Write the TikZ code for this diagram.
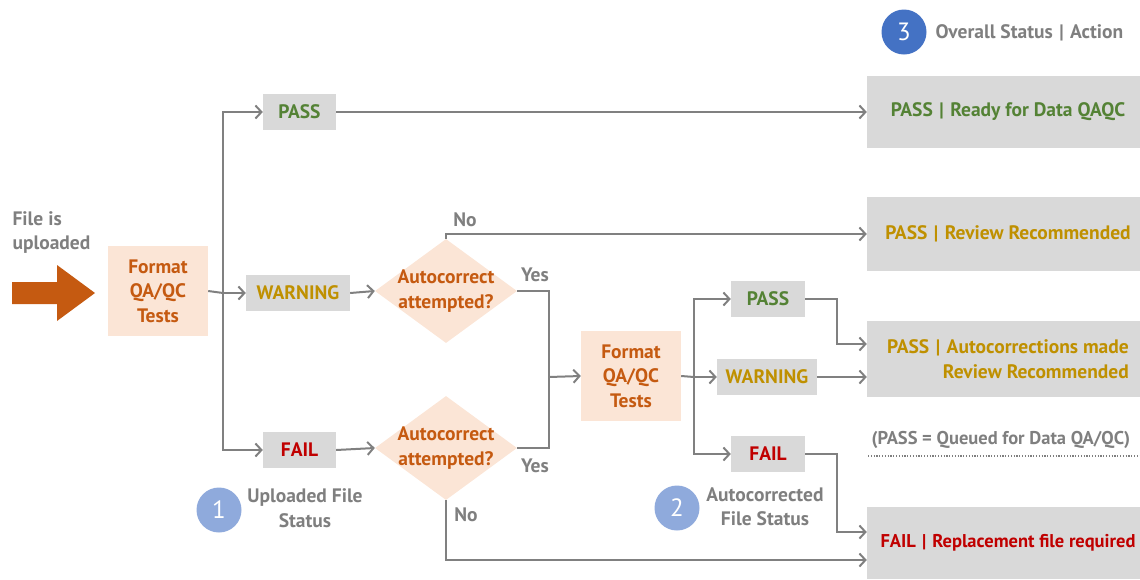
\documentclass[tikz,border=0pt]{standalone}
\usepackage{fontspec}
\setmainfont{PT Sans}
\usetikzlibrary{arrows.meta,shapes.geometric,calc}
\definecolor{peach}{HTML}{FBE5D6}
\definecolor{orangetxt}{HTML}{C55A11}
\definecolor{boxgray}{HTML}{D9D9D9}
\definecolor{linegray}{HTML}{808080}
\definecolor{txtgray}{HTML}{7F7F7F}
\definecolor{passgreen}{HTML}{548235}
\definecolor{warngold}{HTML}{BF9000}
\definecolor{failred}{HTML}{C00000}
\definecolor{lightblue}{HTML}{8FAADC}
\definecolor{darkblue}{HTML}{4472C4}
\begin{document}
\begin{tikzpicture}[x=1pt,y=-1pt,
  font=\fontsize{19.5}{24.5}\selectfont\bfseries,
  conn/.style={draw=linegray, line width=2pt},
  arr/.style={conn, -{Straight Barb[length=6pt,width=13pt]}},
  fmtbox/.style={fill=peach, text=orangetxt, minimum width=100pt, minimum height=90pt, align=center, inner sep=0pt},
  resbox/.style={fill=boxgray, minimum height=36pt, inner sep=0pt},
  statbox/.style={fill=boxgray, minimum width=282pt, inner sep=0pt, align=center},
  decision/.style={diamond, fill=peach, minimum width=142pt, minimum height=104pt, inner sep=0pt},
  dtext/.style={text=orangetxt, align=center},
  graytxt/.style={text=txtgray, align=center},
  numcirc/.style={circle, minimum size=45pt, inner sep=0pt, text=white, font=\fontsize{25}{27}\selectfont}
]
\useasboundingbox (0,0) rectangle (1140,579);
\clip (0,0) rectangle (1140,579);

% input
\node[graytxt, align=left, anchor=north west] (up) at (9,208) {File is\\uploaded};
\fill[orangetxt] (12,282) -- (57,282) -- (57,265) -- (95,293) -- (57,321) -- (57,304) -- (12,304) -- cycle;

\node[fmtbox] (fmt1) at (158,291) {Format\\QA/QC\\Tests};
\coordinate (j1) at (223,293);

\node[resbox, minimum width=73pt, text=passgreen] (pass1) at (299.5,112) {PASS};
\node[resbox, minimum width=104pt, text=warngold] (warn1) at (298,293) {WARNING};
\node[resbox, minimum width=73pt, text=failred] (fail1) at (299.5,450) {FAIL};

\node[decision] (d1) at (446,291) {};
\node[dtext] at (d1) {Autocorrect\\attempted?};
\node[decision] (d2) at (446,448) {};
\node[dtext] at (d2) {Autocorrect\\attempted?};

\coordinate (m) at (549,377);
\node[fmtbox] (fmt2) at (631,376) {Format\\QA/QC\\Tests};
\coordinate (j2) at (694,377);

\node[resbox, minimum width=74pt, text=passgreen] (pass2) at (768,299) {PASS};
\node[resbox, minimum width=100pt, text=warngold] (warn2) at (767,377) {WARNING};
\node[resbox, minimum width=74pt, text=failred] (fail2) at (768,454) {FAIL};

% status boxes
\node[statbox, minimum height=72pt, text=passgreen] (st1) at (1008,112) {PASS\,\,|\,\,Ready for Data QAQC};
\node[statbox, minimum height=74pt, text=warngold] (st2) at (1008,234) {PASS\,\,|\,\,Review Recommended};
\node[statbox, minimum height=76pt, text=warngold, align=right] (st3) at (1008,359) {PASS\,\,|\,\,Autocorrections made\\Review Recommended};
\node[statbox, minimum height=72pt, text=failred, font=\fontsize{18.5}{22}\selectfont\bfseries] (st4) at (1008,543) {FAIL\,\,|\,\,Replacement file required};

\node[graytxt, anchor=west, font=\fontsize{18.5}{22}\selectfont\bfseries] (note) at (868,440) {(PASS = Queued for Data QA/QC)};
\coordinate (dl) at (868,456);
\coordinate (dr) at (1140,456);
\draw[txtgray, line width=1.2pt, dash pattern=on 1.2pt off 1.6pt] (dl) -- (dr);

% legend circles
\node[numcirc, fill=lightblue] (c1) at (219,510) {1};
\node[graytxt] (l1) at (305,508) {Uploaded File\\Status};
\node[numcirc, fill=lightblue] (c2) at (677,508) {2};
\node[graytxt] (l2) at (765,507) {Autocorrected\\File Status};
\node[numcirc, fill=darkblue] (c3) at (904,32) {3};
\node[graytxt, anchor=west] (l3) at (932,33) {Overall Status\,\,|\,\,Action};

% connectors stage 1
\draw[conn] (fmt1.east) -- (j1);
\draw[arr] (j1) -- (warn1.west);
\draw[arr] (j1) |- (pass1.west);
\draw[arr] (j1) |- (fail1.west);
\draw[arr] (pass1.east) -- (st1.west);
\draw[arr] (warn1.east) -- (d1.west);
\draw[arr] (fail1.east) -- (d2.west);

% decisions
\draw[arr] (d1.north) |- (st2.west);
\node[graytxt] (no1) at (465,220) {No};
\draw[conn] (d1.east) -| (m);
\node[graytxt] (yes1) at (535,275) {Yes};
\draw[conn] (d2.east) -| (m);
\node[graytxt] (yes2) at (535,466) {Yes};
\draw[arr] (d2.south) |- ($(st4.west)+(0,17)$);
\node[graytxt] (no2) at (466,515) {No};
\draw[arr] (m) -- (fmt2.west);

% stage 2
\draw[conn] (fmt2.east) -- (j2);
\draw[arr] (j2) -- (warn2.west);
\draw[arr] (j2) |- (pass2.west);
\draw[arr] (j2) |- (fail2.west);
\draw[arr] (pass2.east) -- ++(32,0) |- ($(st3.west)+(0,-15)$);
\draw[arr] (warn2.east) -- ($(st3.west)+(0,18)$);
\draw[arr] (fail2.east) -- ++(32,0) |- ($(st4.west)+(0,-11)$);
\end{tikzpicture}
\end{document}
